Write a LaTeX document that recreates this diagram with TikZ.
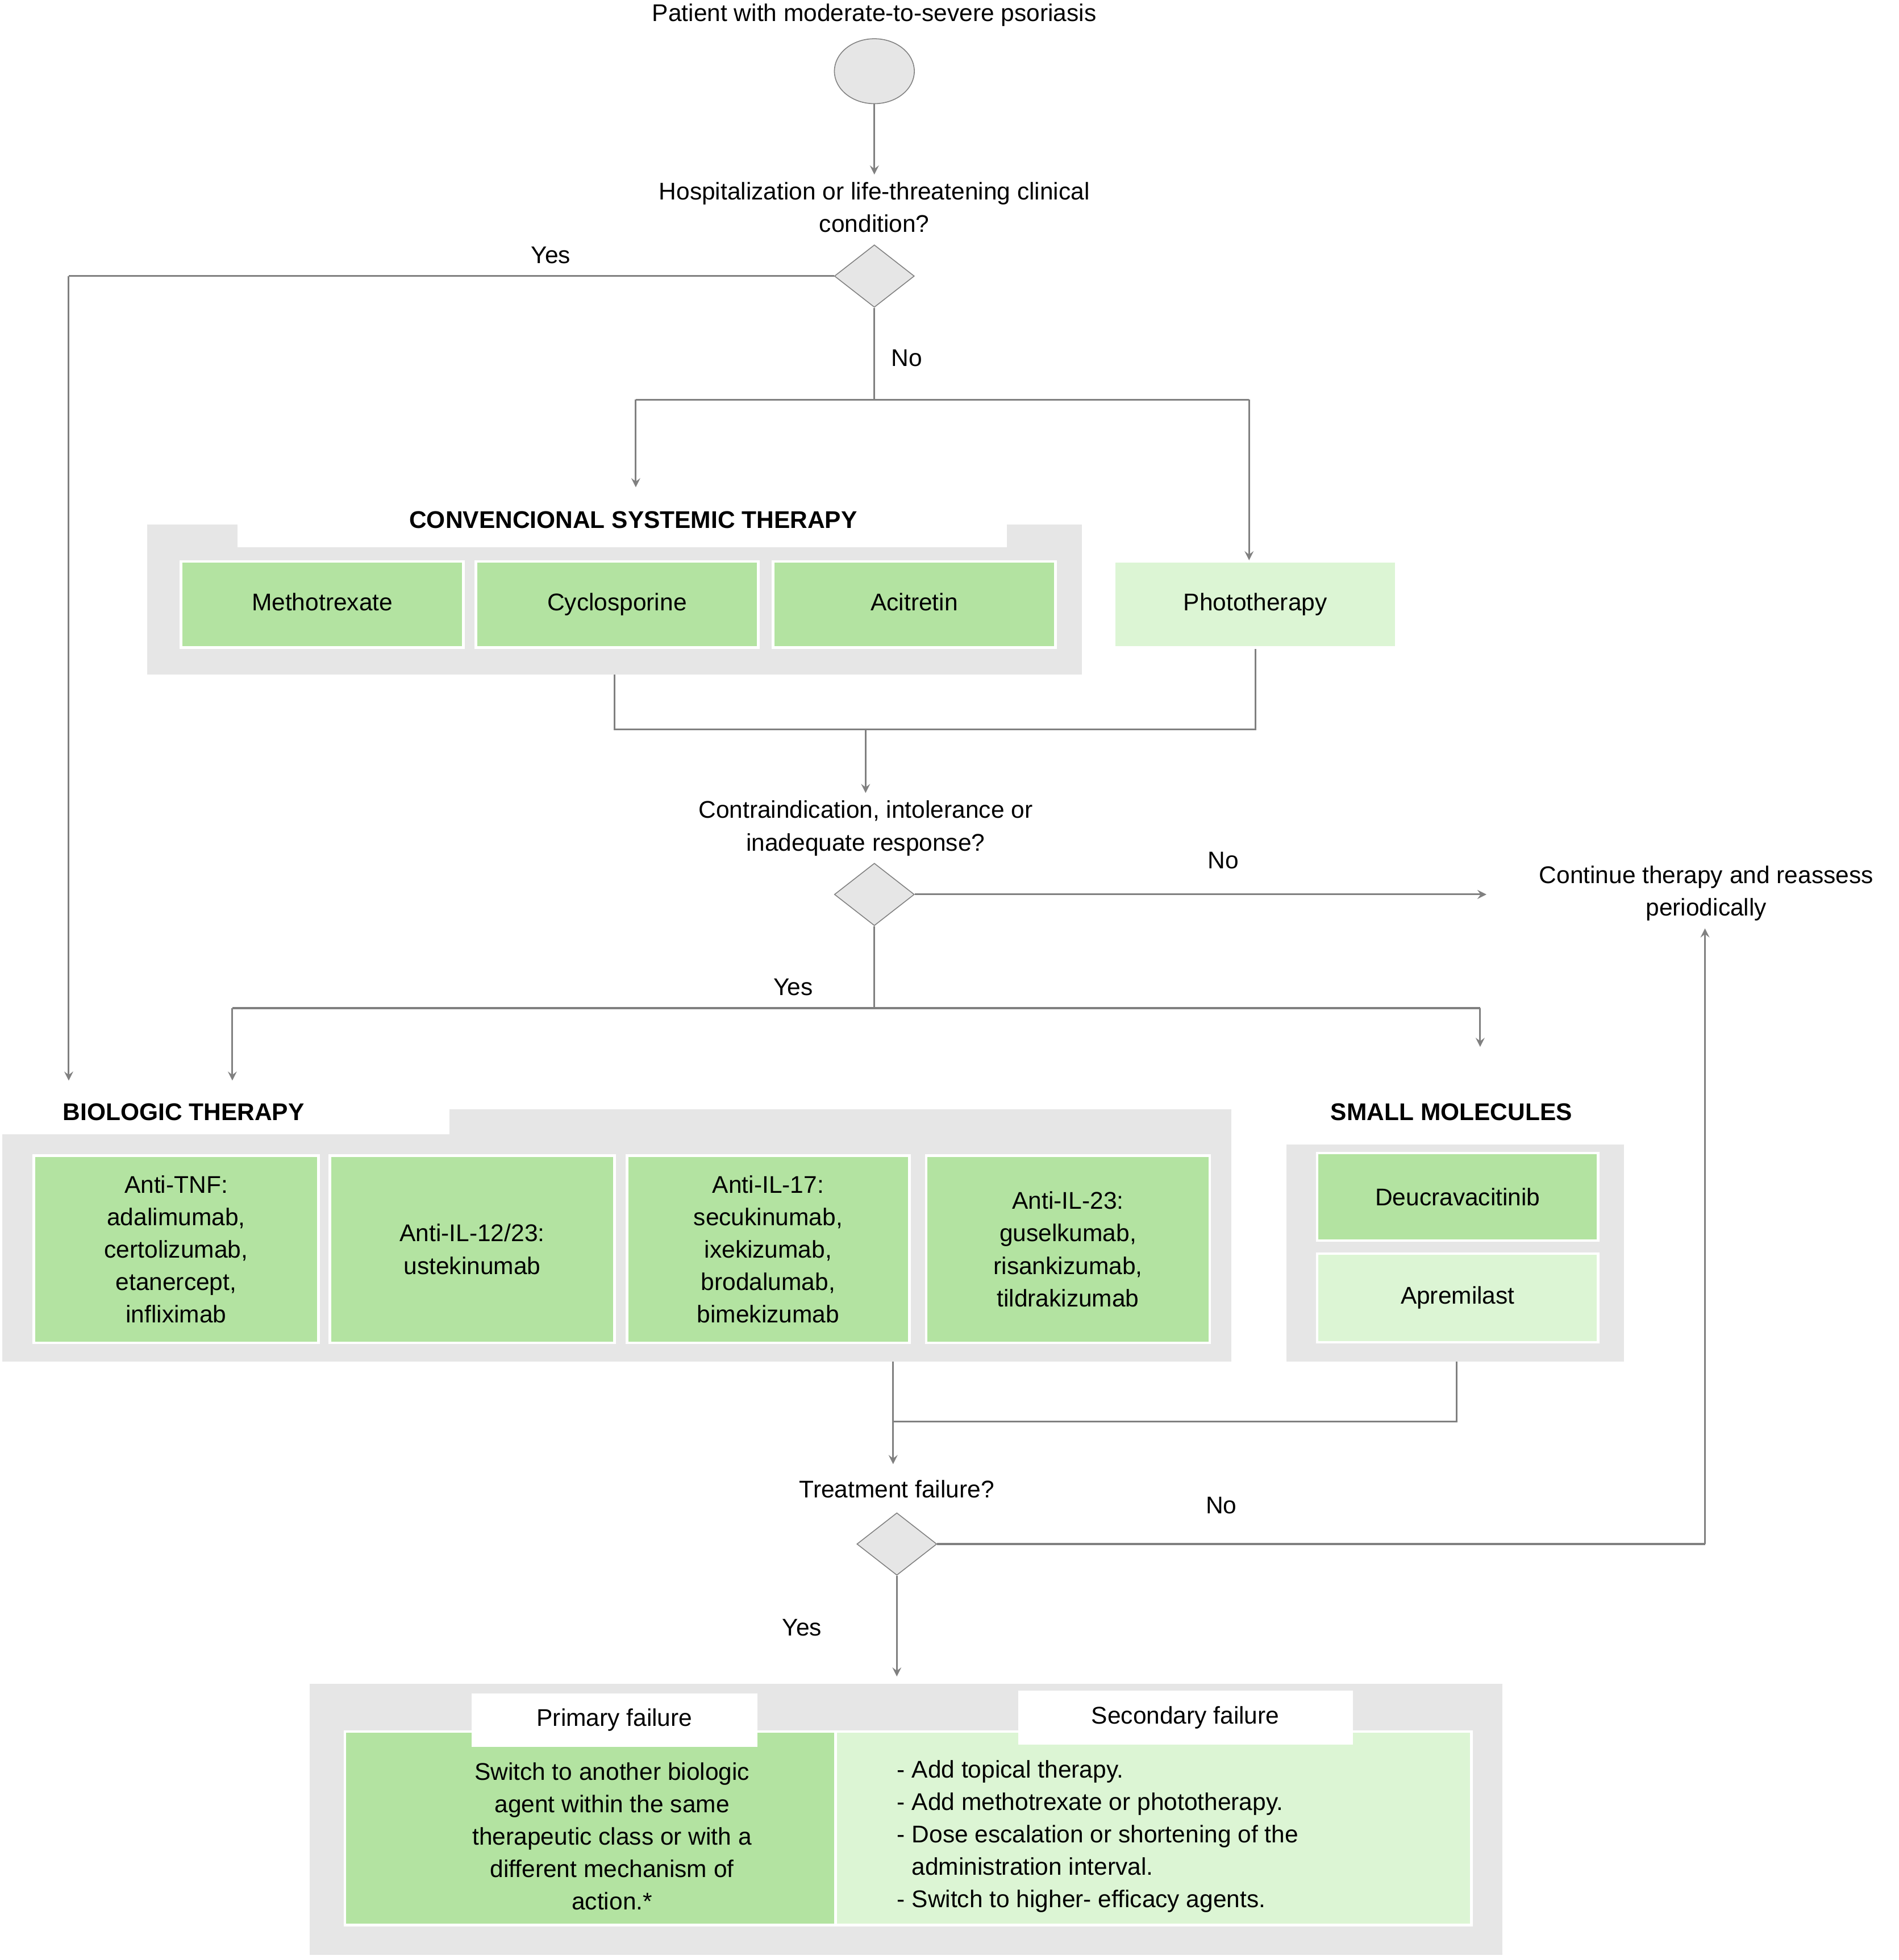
\documentclass[tikz,border=0pt]{standalone}
\usepackage{fontspec}
\setmainfont{Liberation Sans}
\usetikzlibrary{shapes.geometric,positioning}
\definecolor{dkgreen}{HTML}{B3E3A1}
\definecolor{ltgreen}{HTML}{DCF5D4}
\definecolor{panel}{HTML}{E6E6E6}
\definecolor{lin}{HTML}{808080}
\tikzset{
  txt/.style={align=center,font=\fontsize{11}{14.8}\selectfont},
  ttl/.style={font=\fontsize{11}{14}\selectfont\bfseries},
  drug/.style={draw=white,line width=1.2pt,fill=dkgreen,align=center,font=\fontsize{11}{14.8}\selectfont},
  drugl/.style={drug,fill=ltgreen},
  dec/.style={diamond,draw=lin,fill=panel,minimum width=1.28cm,minimum height=1cm,inner sep=0pt},
  con/.style={draw=lin,line width=0.8pt},
  arr/.style={con,->,>=stealth},
}
\begin{document}
\begin{tikzpicture}[x=0.02cm,y=-0.02cm]
\useasboundingbox (0,0) rectangle (1520,1569);
\fill[white] (0,0) rectangle (1520,1569);

% start
\node[txt] (start) at (700,12) {Patient with moderate-to-severe psoriasis};
\node[ellipse,draw=lin,fill=panel,minimum width=1.28cm,minimum height=1.04cm] (pat) at (700,57) {};
\node[txt] (q1) at (700,166) {Hospitalization or life-threatening clinical\\condition?};
\node[dec] (d1) at (700,221) {};
\draw[arr] (pat) -- (q1.north);

% conventional
\fill[panel] (118,420) rectangle (866,540);
\fill[white] (190,420) rectangle (806,438);
\node[ttl] (convt) at (507,416) {CONVENCIONAL SYSTEMIC THERAPY};
\node[drug,minimum width=4.52cm,minimum height=1.38cm,text depth=0.25em] (mtx) at (258,484) {Methotrexate};
\node[drug,minimum width=4.52cm,minimum height=1.38cm,text depth=0.25em] (csa) at (494,484) {Cyclosporine};
\node[drug,minimum width=4.52cm,minimum height=1.38cm,text depth=0.25em] (aci) at (732,484) {Acitretin};
\node[drugl,minimum width=4.52cm,minimum height=1.38cm,text depth=0.25em] (photo) at (1005,484) {Phototherapy};
\coordinate (convb) at (492,540);

\coordinate (n1) at (700,320);
\coordinate (n1l) at (509,320);
\coordinate (n1r) at (1000,320);
\coordinate (yes1) at (55,221);
\coordinate (bioin) at (55,865);
\draw[con] (d1.west) -- (yes1) node[pos=0.37,above=2pt,txt]{Yes};
\draw[arr] (yes1) -- (bioin);
\draw[con] (d1.south) -- (n1) node[pos=0.55,right=4pt,txt]{No};
\draw[con] (n1l) -- (n1r);
\draw[arr] (n1l) -- (509,390);
\draw[arr] (n1r) -- (photo.north -| n1r);

% second question
\node[txt] (q2) at (693,663) {Contraindication, intolerance or\\inadequate response?};
\node[dec] (d2) at (700,716) {};
\node[txt] (cont) at (1366,715) {Continue therapy and reassess\\periodically};
\coordinate (j2) at (693,584);
\draw[con] (convb) |- (j2) -| (photo.south -| 1005,0);
\draw[arr] (j2) -- (q2.north);
\draw[arr] (d2.east) -- (1190,716) node[pos=0.54,above=8pt,txt]{No};
\coordinate (n2) at (700,807);
\coordinate (n2l) at (186,807);
\coordinate (n2r) at (1185,807);
\draw[con] (d2.south) -- (n2);
\node[txt] (yes2) at (635,790) {Yes};
\draw[con] (n2l) -- (n2r);
\draw[arr] (n2l) -- (186,865);
\draw[arr] (n2r) -- (1185,838);

% biologic
\fill[panel] (2,888) rectangle (986,1090);
\fill[white] (2,888) rectangle (360,908);
\node[ttl] (biot) at (147,890) {BIOLOGIC THERAPY};
\node[drug,minimum width=4.56cm,minimum height=3cm] (tnf) at (141,1000) {Anti-TNF:\\adalimumab,\\certolizumab,\\etanercept,\\infliximab};
\node[drug,minimum width=4.56cm,minimum height=3cm] (il12) at (378,1000) {Anti-IL-12/23:\\ustekinumab};
\node[drug,minimum width=4.52cm,minimum height=3cm] (il17) at (615,1000) {Anti-IL-17:\\secukinumab,\\ixekizumab,\\brodalumab,\\bimekizumab};
\node[drug,minimum width=4.54cm,minimum height=3cm] (il23) at (855,1000) {Anti-IL-23:\\guselkumab,\\risankizumab,\\tildrakizumab};

% small molecules
\fill[panel] (1030,916) rectangle (1300,1090);
\node[ttl] (smt) at (1162,890) {SMALL MOLECULES};
\node[drug,minimum width=4.5cm,minimum height=1.4cm] (deu) at (1167,958) {Deucravacitinib};
\node[drugl,minimum width=4.5cm,minimum height=1.42cm] (apr) at (1167,1039) {Apremilast};

% third question
\node[txt] (q3) at (718,1192) {Treatment failure?};
\node[dec] (d3) at (718,1236) {};
\coordinate (biob) at (715,1090);
\coordinate (smb) at (1166,1090);
\coordinate (j3) at (715,1138);
\draw[arr] (biob) -- (715,1172);
\draw[con] (smb) |- (j3);
\coordinate (no3) at (1365,1236);
\draw[con] (d3.east) -- (no3) node[pos=0.37,above=10pt,txt]{No};
\draw[arr] (no3) -- (cont.south -| no3);
\coordinate (fin) at (718,1342);
\draw[arr] (d3.south) -- (fin);
\node[txt] (yes3) at (642,1303) {Yes};

% failures
\fill[panel] (248,1348) rectangle (1203,1565);
\node[drug,minimum width=7.86cm,minimum height=3.1cm,anchor=north west] (prim) at (275,1385) {};
\node[drugl,minimum width=10.18cm,minimum height=3.1cm,anchor=north west] (sec) at (668,1385) {};
\node[txt,fill=white,minimum width=4.58cm,minimum height=0.86cm] (primt) at (492,1377) {Primary failure};
\node[txt,fill=white,minimum width=5.36cm,minimum height=0.86cm] (sect) at (949,1375) {Secondary failure};
\node[txt] (primx) at (490,1470) {Switch to another biologic\\agent within the same\\therapeutic class or with a\\different mechanism of\\action.*};
\node[txt,align=left,anchor=west] (secx) at (712,1470) {- Add topical therapy.\\- Add methotrexate or phototherapy.\\- Dose escalation or shortening of the\\\phantom{- }administration interval.\\- Switch to higher- efficacy agents.};
\end{tikzpicture}
\end{document}
